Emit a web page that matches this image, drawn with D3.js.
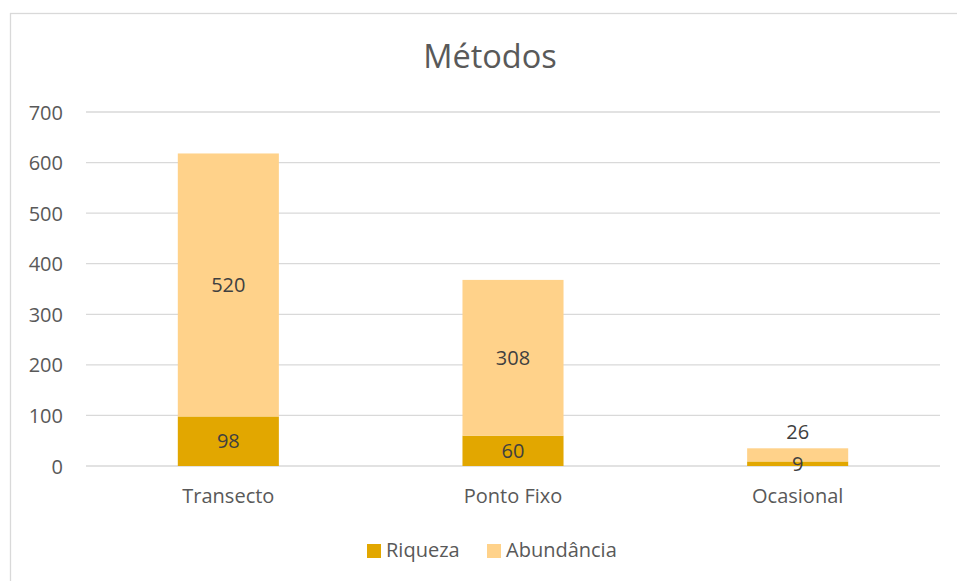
<!DOCTYPE html>
<html>
<head>
<meta charset="utf-8">
<script src="https://cdn.jsdelivr.net/npm/d3@7"></script>
<style>
  html, body { margin: 0; padding: 0; background: #fff; }
  svg { display: block; }
  text { font-family: "Open Sans", Lato, sans-serif; }
</style>
</head>
<body>
<svg id="chart" width="957" height="581"></svg>
<script>
// Categories and stacked series
const categories = ["Transecto", "Ponto Fixo", "Ocasional"];
const riqueza = [98, 60, 9];
const abundancia = [520, 308, 26];
const seriesNames = ["Riqueza", "Abundância"];
const seriesColors = ["#E2A700", "#FFD28A"];
const yTicks = [0, 100, 200, 300, 400, 500, 600, 700];

const svg = d3.select("#chart");
const plotLeft = 86, plotRight = 940;
const plotTop = 112, plotBottom = 466;
const fontSize = 20;

// outer chart frame (top and left edges visible)
svg.append("rect")
  .attr("x", 10.5).attr("y", 13.5)
  .attr("width", 960).attr("height", 600)
  .attr("fill", "none").attr("stroke", "#D9D9D9").attr("stroke-width", 1.3);

const x = d3.scaleBand()
  .domain(categories)
  .range([plotLeft, plotRight])
  .paddingInner(0.645)
  .paddingOuter(0.3225);

const y = d3.scaleLinear().domain([0, 700]).range([plotBottom, plotTop]);

// gridlines
svg.append("g")
  .selectAll("line")
  .data(yTicks)
  .join("line")
  .attr("x1", plotLeft).attr("x2", plotRight)
  .attr("y1", d => y(d)).attr("y2", d => y(d))
  .attr("stroke", "#D9D9D9").attr("stroke-width", 1.3);

// y-axis labels
const yAxis = d3.axisLeft(y).tickValues(yTicks).tickSize(0).tickPadding(0);
const yg = svg.append("g").attr("transform", "translate(63,0)").call(yAxis);
yg.select(".domain").remove();
yg.selectAll("text")
  .attr("fill", "#595959").attr("font-size", fontSize).attr("dy", "0.35em");

// stacked data
const rows = categories.map((c, i) => ({ cat: c, Riqueza: riqueza[i], "Abundância": abundancia[i] }));
const stacked = d3.stack().keys(seriesNames)(rows);

const layers = svg.append("g")
  .selectAll("g")
  .data(stacked)
  .join("g")
  .attr("fill", (d, i) => seriesColors[i]);

layers.selectAll("rect")
  .data(d => d)
  .join("rect")
  .attr("x", d => x(d.data.cat))
  .attr("width", x.bandwidth())
  .attr("y", d => y(d[1]))
  .attr("height", d => y(d[0]) - y(d[1]));

// data labels
const labelG = svg.append("g");
stacked.forEach((layer, li) => {
  layer.forEach(d => {
    const val = d[1] - d[0];
    const segH = y(d[0]) - y(d[1]);
    let cy = (y(d[0]) + y(d[1])) / 2;
    // labels that do not fit in a small top segment sit above the bar
    if (li === stacked.length - 1 && segH < 20) cy = y(d[1]) - 16;
    labelG.append("text")
      .attr("x", x(d.data.cat) + x.bandwidth() / 2)
      .attr("y", cy)
      .attr("dy", "0.35em")
      .attr("text-anchor", "middle")
      .attr("font-size", fontSize)
      .attr("fill", "#404040")
      .text(val);
  });
});

// x-axis category labels
const xAxis = d3.axisBottom(x).tickSize(0).tickPadding(0);
const xg = svg.append("g").attr("transform", "translate(0,496)").call(xAxis);
xg.select(".domain").remove();
xg.selectAll("text")
  .attr("fill", "#595959").attr("font-size", fontSize).attr("dy", "0.35em");

// title
svg.append("text")
  .attr("x", 490).attr("y", 57)
  .attr("dy", "0.35em")
  .attr("text-anchor", "middle")
  .attr("font-size", 32.5)
  .attr("fill", "#595959")
  .text("Métodos");

// legend
const legendItems = [
  { name: seriesNames[0], color: seriesColors[0], x: 367 },
  { name: seriesNames[1], color: seriesColors[1], x: 487 }
];
const lg = svg.append("g");
legendItems.forEach(it => {
  lg.append("rect")
    .attr("x", it.x).attr("y", 544)
    .attr("width", 14).attr("height", 14)
    .attr("fill", it.color);
  lg.append("text")
    .attr("x", it.x + 19).attr("y", 550)
    .attr("dy", "0.35em")
    .attr("font-size", fontSize)
    .attr("fill", "#595959")
    .text(it.name);
});
</script>
</body>
</html>
